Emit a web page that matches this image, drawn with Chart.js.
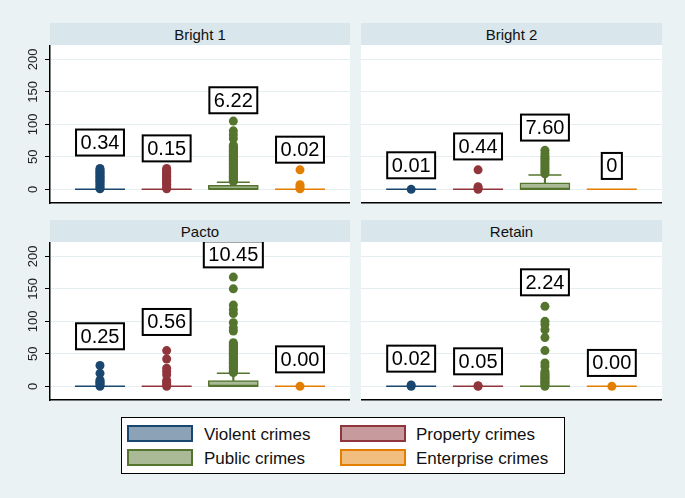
<!DOCTYPE html>
<html>
<head>
<meta charset="utf-8">
<script src="https://cdn.jsdelivr.net/npm/chart.js@4.4.1/dist/chart.umd.min.js"></script>
<style>
  body { margin: 0; background: #eaf2f3; font-family: "Liberation Sans", Arial, sans-serif; }
  #wrap { position: relative; width: 685px; height: 498px; overflow: hidden; }
  .strip { position: absolute; height: 22px; line-height: 23px; background: #d9e6eb; text-align: center; font-size: 15px; color: #111; }
  .cv { position: absolute; }
  #legend { position: absolute; left: 121px; top: 417px; width: 444px; height: 57px; background: #fff; border: 1.5px solid #000; box-sizing: border-box; }
  .sw { position: absolute; width: 62px; height: 13px; border: 2px solid; }
  .lt { position: absolute; font-size: 17px; color: #111; line-height: 17px; }
</style>
</head>
<body>
<div id="wrap">
  <div id="legend"></div>
</div>
<script>
/* categorias y paneles */
var panels = ["Bright 1", "Bright 2", "Pacto", "Retain"];
var crimeTypes = ["Violent crimes", "Property crimes", "Public crimes", "Enterprise crimes"];
var yTicks = [0, 50, 100, 150, 200];

/* Bright 1 */
var bright1Means = ["0.34", "0.15", "6.22", "0.02"];
var bright1Median = [0, 0, 0, 0];
var bright1Q1 = [0, 0, 0, 0];
var bright1Q3 = [0, 0, 6, 0];
var bright1Whisker = [0, 0, 11, 0];
var bright1LabelY = [72, 63, 137, 61];
var bright1Outliers = [
  [1, 3, 5, 8, 10, 12, 14, 16, 18, 20, 22, 24, 26, 28, 30, 32],
  [1, 3, 5, 8, 10, 12, 14, 16, 18, 20, 22, 24, 26, 28, 30, 32],
  [12, 14, 16, 18, 20, 22, 24, 26, 28, 30, 32, 34, 36, 38, 40, 42, 44, 46, 48, 50, 52, 54, 56, 58, 60, 62, 64, 66, 68, 78, 84, 90, 105],
  [1, 4, 7, 30]
];

/* Bright 2 */
var bright2Means = ["0.01", "0.44", "7.60", "0"];
var bright2Median = [0, 0, 0, 0];
var bright2Q1 = [0, 0, 0, 0];
var bright2Q3 = [0, 0, 10, 0];
var bright2Whisker = [0, 0, 22, 0];
var bright2LabelY = [37, 66, 95, 36];
var bright2Outliers = [
  [0],
  [0, 2, 4, 30],
  [24, 27, 30, 33, 36, 39, 42, 45, 48, 51, 55, 60],
  []
];

/* Pacto */
var pactoMeans = ["0.25", "0.56", "10.45", "0.00"];
var pactoMedian = [0, 0, 0, 0];
var pactoQ1 = [0, 0, 0, 0];
var pactoQ3 = [0, 0, 9, 0];
var pactoWhisker = [0, 0, 20, 0];
var pactoLabelY = [77, 99, 203, 41.5];
var pactoOutliers = [
  [0, 2, 4, 6, 8, 10, 20, 32],
  [0, 3, 6, 9, 18, 23, 28, 42, 55],
  [21, 23, 25, 27, 29, 31, 33, 35, 37, 39, 41, 43, 45, 47, 49, 51, 53, 55, 57, 59, 61, 63, 65, 67, 85, 90, 98, 112, 118, 125, 150, 168],
  [0]
];

/* Retain */
var retainMeans = ["0.02", "0.05", "2.24", "0.00"];
var retainMedian = [0, 0, 0, 0];
var retainQ1 = [0, 0, 0, 0];
var retainQ3 = [0, 0, 0, 0];
var retainWhisker = [0, 0, 0, 0];
var retainLabelY = [42.6, 38.5, 160, 36];
var retainOutliers = [
  [0, 2],
  [0, 1],
  [0, 2, 4, 6, 8, 10, 12, 14, 16, 18, 20, 23, 31, 36, 55, 75, 87, 95, 100, 123],
  [0]
];

var panelData = [
  {means: bright1Means, med: bright1Median, q1: bright1Q1, q3: bright1Q3, wh: bright1Whisker, ly: bright1LabelY, out: bright1Outliers},
  {means: bright2Means, med: bright2Median, q1: bright2Q1, q3: bright2Q3, wh: bright2Whisker, ly: bright2LabelY, out: bright2Outliers},
  {means: pactoMeans, med: pactoMedian, q1: pactoQ1, q3: pactoQ3, wh: pactoWhisker, ly: pactoLabelY, out: pactoOutliers},
  {means: retainMeans, med: retainMedian, q1: retainQ1, q3: retainQ3, wh: retainWhisker, ly: retainLabelY, out: retainOutliers}
];

var lineColors = ['#1a476f', '#90353b', '#55752f', '#e37e00'];
var fillColors = ['#8ca3b7', '#c79a9d', '#aaba97', '#f1be7f'];
var boxPos = [0.75, 1.75, 2.75, 3.75];
var FONT = '"Liberation Sans", Arial, sans-serif';

// layout de los 4 paneles
var plotLeft = [50, 361, 50, 361];
var plotWidth = [300, 301, 300, 301];
var stripTop = [23, 23, 220, 220];
var plotTop = [45, 45, 242, 242];
var plotH = 158;

var wrap = document.getElementById('wrap');

function showPanel(p) {
    var d = panelData[p];
    var isLeft = (p % 2 == 0);

    var strip = document.createElement('div');
    strip.className = 'strip';
    strip.style.left = plotLeft[p] + 'px';
    strip.style.top = stripTop[p] + 'px';
    strip.style.width = plotWidth[p] + 'px';
    strip.textContent = panels[p];
    wrap.appendChild(strip);

    var axisW = isLeft ? 50 : 0;
    var cv = document.createElement('canvas');
    cv.className = 'cv';
    cv.width = plotWidth[p] + axisW;
    cv.height = plotH + 3;
    cv.style.left = (plotLeft[p] - axisW) + 'px';
    cv.style.top = plotTop[p] + 'px';
    cv.style.width = cv.width + 'px';
    cv.style.height = cv.height + 'px';
    wrap.appendChild(cv);

    var datasets = [];
    for (var i = 0; i < 4; i++) {
        // caja (q1-q3)
        datasets.push({
            type: 'bar', grouped: false, order: 5,
            data: [{x: boxPos[i], y: [d.q1[i], d.q3[i]]}],
            backgroundColor: fillColors[i], borderColor: lineColors[i],
            borderWidth: 1.5, borderSkipped: false, barThickness: 50
        });
        // bigote superior
        if (d.wh[i] > d.q3[i]) {
            datasets.push({
                type: 'bar', grouped: false, order: 4,
                data: [{x: boxPos[i], y: [d.q3[i], d.wh[i]]}],
                backgroundColor: lineColors[i], borderWidth: 0, barThickness: 1.5
            });
            datasets.push({
                type: 'scatter', order: 3,
                data: [{x: boxPos[i], y: d.wh[i]}],
                pointStyle: 'line', pointRadius: 16.5, borderColor: lineColors[i], borderWidth: 1.5
            });
        }
        // mediana
        datasets.push({
            type: 'scatter', order: 2,
            data: [{x: boxPos[i], y: d.med[i]}],
            pointStyle: 'line', pointRadius: 25, borderColor: lineColors[i], borderWidth: 1.5
        });
        // valores atipicos
        datasets.push({
            type: 'scatter', order: 1,
            data: d.out[i].map(function (v) { return {x: boxPos[i], y: v}; }),
            pointRadius: 4.5, backgroundColor: lineColors[i], borderWidth: 0
        });
    }

    var panelDeco = {
        id: 'panelDeco',
        beforeDraw: function (chart) {
            var ctx = chart.ctx, a = chart.chartArea;
            ctx.save();
            ctx.fillStyle = '#fff';
            ctx.fillRect(a.left, a.top, a.right - a.left, a.bottom - a.top);
            ctx.restore();
        },
        afterDraw: function (chart) {
            var ctx = chart.ctx, xs = chart.scales.x, ys = chart.scales.y;
            ctx.save();
            // etiquetas del eje y, giradas
            if (isLeft) {
                ctx.font = '13px ' + FONT;
                ctx.fillStyle = '#222';
                ctx.textAlign = 'center';
                ctx.textBaseline = 'middle';
                yTicks.forEach(function (v) {
                    ctx.save();
                    ctx.translate(33, ys.getPixelForValue(v));
                    ctx.rotate(-Math.PI / 2);
                    ctx.fillText(String(v), 0, 0);
                    ctx.restore();
                });
            }
            // cajas con la media
            ctx.font = '20px ' + FONT;
            ctx.textAlign = 'center';
            ctx.textBaseline = 'middle';
            d.means.forEach(function (t, i) {
                var px = xs.getPixelForValue(boxPos[i]);
                var py = ys.getPixelForValue(d.ly[i]);
                var w = ctx.measureText(t).width + 9, h = 26;
                ctx.fillStyle = '#fff';
                ctx.fillRect(px - w / 2, py - h / 2, w, h);
                ctx.lineWidth = 2;
                ctx.strokeStyle = '#000';
                ctx.strokeRect(px - w / 2, py - h / 2, w, h);
                ctx.fillStyle = '#000';
                ctx.fillText(t, px, py + 1);
            });
            ctx.restore();
        }
    };

    new Chart(cv, {
        data: {datasets: datasets},
        plugins: [panelDeco],
        options: {
            responsive: false,
            animation: false,
            layout: {autoPadding: false, padding: {top: 0, bottom: 3, left: 0, right: 0}},
            plugins: {legend: {display: false}, tooltip: {enabled: false}},
            scales: {
                x: {
                    type: 'linear', min: 0, max: 4.5, offset: false,
                    ticks: {display: false},
                    grid: {display: false, drawTicks: false},
                    border: {display: true, color: '#000', width: 1.5},
                    afterFit: function (s) { s.height = 0; }
                },
                y: {
                    type: 'linear', min: -21, max: 222,
                    afterBuildTicks: function (s) { s.ticks = yTicks.map(function (v) { return {value: v}; }); },
                    afterFit: function (s) { s.width = axisW; },
                    ticks: {display: false},
                    grid: {color: '#e4edf0', lineWidth: 1, tickLength: 5, tickColor: '#000', drawTicks: isLeft},
                    border: {display: isLeft, color: '#000', width: 1.5}
                }
            }
        }
    });
}

for (var p = 0; p < 4; p++) showPanel(p);

// leyenda
var legend = document.getElementById('legend');
var swLeft = [5, 218], txtLeft = [82, 294], rowTop = [7, 31];
crimeTypes.forEach(function (name, i) {
    var col = i % 2, row = Math.floor(i / 2);
    var sw = document.createElement('div');
    sw.className = 'sw';
    sw.style.left = swLeft[col] + 'px';
    sw.style.top = rowTop[row] + 'px';
    sw.style.background = fillColors[i];
    sw.style.borderColor = lineColors[i];
    legend.appendChild(sw);
    var t = document.createElement('div');
    t.className = 'lt';
    t.style.left = txtLeft[col] + 'px';
    t.style.top = (rowTop[row] + 1) + 'px';
    t.textContent = name;
    legend.appendChild(t);
});
</script>
</body>
</html>
